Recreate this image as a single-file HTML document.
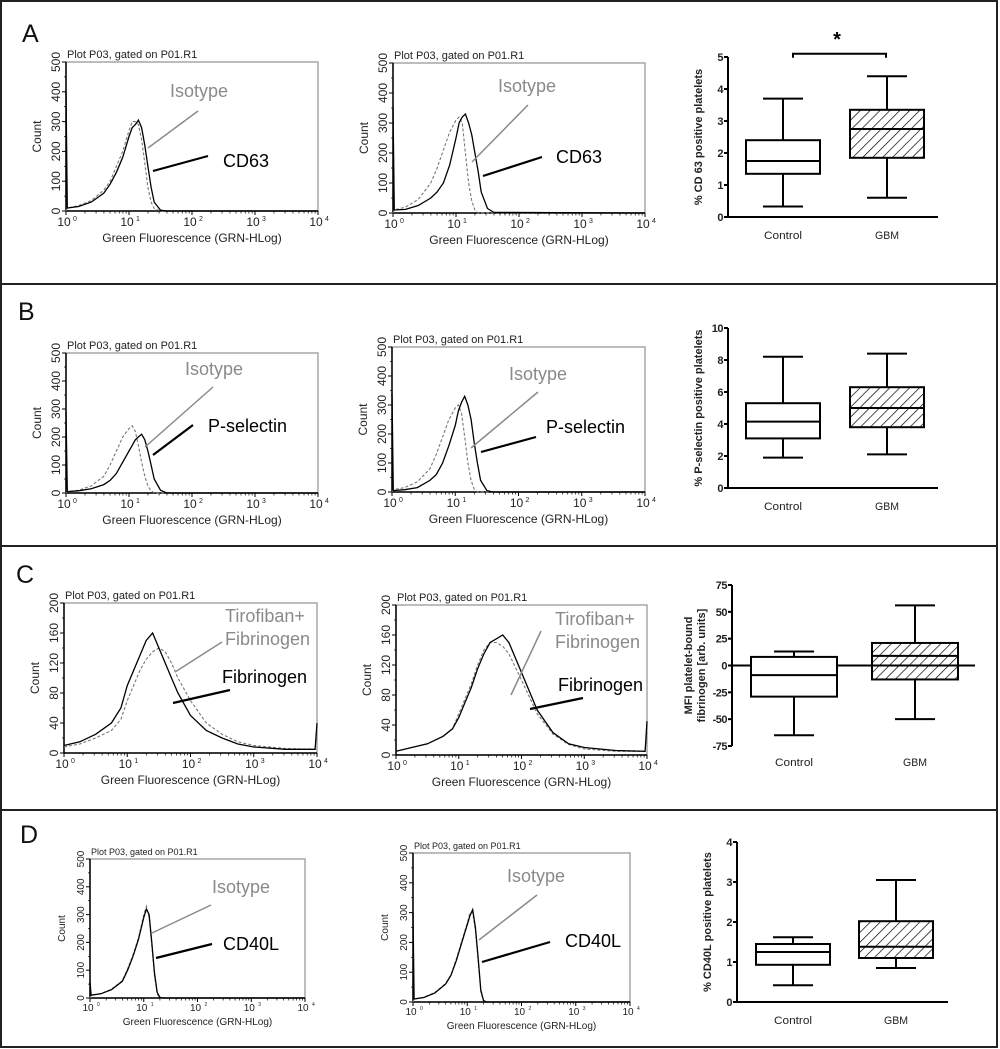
<!DOCTYPE html>
<html><head><meta charset="utf-8"><style>
html,body{margin:0;padding:0;background:#fff;}
svg{display:block;font-family:"Liberation Sans",sans-serif;}
</style></head><body>
<svg id="fig" width="1000" height="1049" viewBox="0 0 1000 1049" xmlns="http://www.w3.org/2000/svg">
<rect x="1" y="1" width="996" height="1046" fill="#fff" stroke="#222" stroke-width="2"/>
<line x1="1" y1="284" x2="997" y2="284" stroke="#222" stroke-width="2"/>
<line x1="1" y1="546" x2="997" y2="546" stroke="#222" stroke-width="2"/>
<line x1="1" y1="810" x2="997" y2="810" stroke="#222" stroke-width="2"/>
<g font-size="25" fill="#111">
<text x="22" y="42">A</text>
<text x="18" y="320">B</text>
<text x="16" y="583">C</text>
<text x="20" y="843">D</text>
</g>
<g id="flows"></g>
<g id="boxes"></g>
<g id="annot" font-size="18"></g>
</svg>
<script>
// ---- flow cytometry histogram data (log10 fluorescence, counts) ----
const logsStd = [0,0.02,0.2,0.4,0.6,0.7,0.8,0.9,1.0,1.05,1.1,1.15,1.2,1.25,1.3,1.35,1.4,1.5,1.6,4];
const logsFib = [0,0.25,0.5,0.75,0.9,1.0,1.1,1.2,1.3,1.4,1.5,1.6,1.7,1.8,2.0,2.25,2.5,2.75,3.0,3.5,3.97,4.0];
const a1Black = [400,10,15,30,60,90,130,180,250,280,290,305,280,220,150,80,30,3,0,0];
const a1Gray  = [0,10,18,35,70,100,150,200,270,300,300,290,240,160,80,30,8,0,0,0];
const a2Black = [350,10,12,25,50,70,100,160,250,300,320,330,300,260,200,140,70,15,2,0];
const a2Gray  = [0,10,20,45,100,150,210,270,310,320,300,200,100,40,10,0,0,0,0,0];
const b1Black = [290,5,8,15,30,45,70,110,150,170,190,200,210,190,150,100,50,10,0,0];
const b1Gray  = [0,5,10,25,60,100,150,200,230,240,220,170,110,60,25,8,0,0,0,0];
const b2Black = [340,5,8,15,40,60,100,160,230,280,310,330,300,250,170,100,40,5,0,0];
const b2Gray  = [0,8,15,35,80,130,190,250,290,300,270,190,100,40,10,0,0,0,0,0];
const c1Black = [10,15,25,40,60,90,110,130,150,160,140,120,100,80,50,30,20,12,8,5,5,40];
const c1Gray  = [8,12,20,30,45,70,90,110,125,135,140,135,120,100,70,40,25,15,10,6,5,30];
const c2Black = [5,10,15,25,35,50,70,90,115,135,150,155,160,150,110,60,30,15,10,6,5,45];
const c2Gray  = [5,10,15,25,35,55,75,95,120,140,150,150,145,135,100,55,28,14,8,5,5,30];
const d1Black = [60,10,15,30,60,100,150,210,290,320,300,200,90,20,2,0,0,0,0,0];
const d1Gray  = [0,10,16,32,62,105,155,215,300,330,290,190,80,15,0,0,0,0,0,0];
const d2Black = [300,10,15,30,60,90,140,200,260,290,310,250,150,40,5,0,0,0,0,0];
const d2Gray  = [0,10,16,32,62,92,145,205,265,300,300,240,140,35,4,0,0,0,0,0];
const yTicks500 = [0,100,200,300,400,500];
const yTicks200 = [0,40,80,120,160,200];
const decades = [0,1,2,3,4];

// ---- box plot stats [min, q1, median, q3, max] ----
const groups = ["Control","GBM"];
const aControl = [0.33,1.35,1.75,2.4,3.7];
const aGbm = [0.6,1.85,2.75,3.35,4.4];
const aTicks = [0,1,2,3,4,5];
const bControl = [1.9,3.1,4.15,5.3,8.2];
const bGbm = [2.1,3.8,5.0,6.3,8.4];
const bTicks = [0,2,4,6,8,10];
const cControl = [-65,-29,-9,8,13];
const cGbm = [-50,-13,9,21,56];
const cTicks = [-75,-50,-25,0,25,50,75];
const dControl = [0.42,0.93,1.25,1.45,1.62];
const dGbm = [0.85,1.1,1.38,2.02,3.05];
const dTicks = [0,1,2,3,4];

const NS = "http://www.w3.org/2000/svg";
function mk(tag, attrs, parent){const e=document.createElementNS(NS,tag);for(const k in attrs)e.setAttribute(k,attrs[k]);parent.appendChild(e);return e;}

const flows = document.getElementById('flows');
function flow(name, cfg, logs, black, gray, ticks){
  const g = mk('g',{},flows);
  
  
  const {x0,x1,y0,y1,ymax,fs} = cfg;
  const sx = v => x0 + v/4*(x1-x0);
  const sy = v => y1 - v/ymax*(y1-y0);
  mk('rect',{x:x0,y:y0,width:x1-x0,height:y1-y0,fill:'none',stroke:'#999','stroke-width':1.3},g);
  mk('line',{x1:x0,y1:y0,x2:x0,y2:y1,stroke:'#000','stroke-width':1.5},g);
  mk('line',{x1:x0,y1:y1,x2:x1,y2:y1,stroke:'#000','stroke-width':1.5},g);
  const t = mk('text',{x:x0+1,y:y0-4,'font-size':fs,fill:'#222'},g);
  t.textContent = 'Plot P03, gated on P01.R1';
  
  
  // x ticks
  decades.forEach(d=>{
    const x=sx(d);
    mk('line',{x1:x,y1:y1,x2:x,y2:y1+4,stroke:'#000'},g);
    if(d<4){for(let k=2;k<10;k++){const xm=sx(d+Math.log10(k));mk('line',{x1:xm,y1:y1,x2:xm,y2:y1+2.5,stroke:'#000','stroke-width':0.7},g);}}
    const lt=mk('text',{x:x-2,y:y1+fs+4,'font-size':fs+1,'text-anchor':'middle',fill:'#222'},g);
    lt.textContent='10';
    
    
    const st=mk('text',{x:x+7,y:y1+fs-1,'font-size':fs-4,fill:'#222'},g);
    st.textContent=String(d);
  });
  const xl = mk('text',{x:(x0+x1)/2,y:y1+2*fs+9,'font-size':fs+1,'text-anchor':'middle',fill:'#222'},g);
  xl.textContent='Green Fluorescence (GRN-HLog)';
  
  
  // y ticks
  const step = ticks[1]-ticks[0];
  ticks.forEach((v,i)=>{
    const y=sy(v);
    mk('line',{x1:x0-4,y1:y,x2:x0,y2:y,stroke:'#000'},g);
    if(i<ticks.length-1){const ym=sy(v+step/2);mk('line',{x1:x0-2,y1:ym,x2:x0,y2:ym,stroke:'#000','stroke-width':0.7},g);}
    const yt=mk('text',{x:x0-6,y:y,'font-size':fs+1,'text-anchor':'middle',fill:'#222',transform:`rotate(-90 ${x0-6} ${y})`},g);
    yt.textContent=String(v);
    
    
  });
  const yl=mk('text',{x:x0-25,y:(y0+y1)/2,'font-size':fs+1,'text-anchor':'middle',fill:'#222',transform:`rotate(-90 ${x0-25} ${(y0+y1)/2})`},g);
  yl.textContent='Count';
  
  
  const pts = arr => logs.map((l,i)=>sx(l).toFixed(1)+','+sy(Math.min(arr[i],ymax)).toFixed(1)).join(' ');
  const pg = mk('polyline',{points:pts(gray),fill:'none',stroke:'#777','stroke-width':1.1,'stroke-dasharray':'3,2'},g);
  
  
  const pb = mk('polyline',{points:pts(black),fill:'none',stroke:'#000','stroke-width':1.3},g);
  
  
}
flow('flow-a1',{x0:66,x1:318,y0:62,y1:211,ymax:500,fs:11},logsStd,a1Black,a1Gray,yTicks500);
flow('flow-a2',{x0:393,x1:645,y0:63,y1:213,ymax:500,fs:11},logsStd,a2Black,a2Gray,yTicks500);
flow('flow-b1',{x0:66,x1:318,y0:353,y1:493,ymax:500,fs:11},logsStd,b1Black,b1Gray,yTicks500);
flow('flow-b2',{x0:392,x1:645,y0:347,y1:492,ymax:500,fs:11},logsStd,b2Black,b2Gray,yTicks500);
flow('flow-c1',{x0:64,x1:317,y0:603,y1:753,ymax:200,fs:11},logsFib,c1Black,c1Gray,yTicks200);
flow('flow-c2',{x0:396,x1:647,y0:605,y1:755,ymax:200,fs:11},logsFib,c2Black,c2Gray,yTicks200);
flow('flow-d1',{x0:90,x1:305,y0:859,y1:998,ymax:500,fs:9},logsStd,d1Black,d1Gray,yTicks500);
flow('flow-d2',{x0:413,x1:630,y0:853,y1:1002,ymax:500,fs:9},logsStd,d2Black,d2Gray,yTicks500);

// ---- box plots ----
const boxes = document.getElementById('boxes');
mk('defs',{},boxes).innerHTML='<pattern id="hatch" width="7" height="7" patternUnits="userSpaceOnUse" patternTransform="rotate(45)"><line x1="0" y1="0" x2="0" y2="7" stroke="#000" stroke-width="1.4"/></pattern>';
function boxplot(name, cfg, ticks, stats, ylabel){
  const g = mk('g',{},boxes);
  
  
  const {ax,axEnd,yTop,yBot,cx,hw,zeroLine} = cfg;
  const vmin=ticks[0], vmax=ticks[ticks.length-1];
  const sy = v => yBot - (v-vmin)/(vmax-vmin)*(yBot-yTop);
  mk('line',{x1:ax,y1:yTop,x2:ax,y2:yBot,stroke:'#000','stroke-width':2},g);
  const baseY = zeroLine ? sy(0) : yBot;
  mk('line',{x1:ax,y1:baseY,x2:axEnd,y2:baseY,stroke:'#000','stroke-width':2},g);
  ticks.forEach(v=>{
    mk('line',{x1:ax-4,y1:sy(v),x2:ax,y2:sy(v),stroke:'#000','stroke-width':2},g);
    const t=mk('text',{x:ax-5,y:sy(v)+4,'font-size':11,'font-weight':'bold','text-anchor':'end',fill:'#222','letter-spacing':'-0.5'},g);
    t.textContent=String(v);
    
    
  });
  stats.forEach((s,i)=>{
    const c=cx[i];
    const w=mk('g',{},g);
    
    
    mk('line',{x1:c,y1:sy(s[0]),x2:c,y2:sy(s[1]),stroke:'#000','stroke-width':2},w);
    mk('line',{x1:c,y1:sy(s[3]),x2:c,y2:sy(s[4]),stroke:'#000','stroke-width':2},w);
    mk('line',{x1:c-20,y1:sy(s[0]),x2:c+20,y2:sy(s[0]),stroke:'#000','stroke-width':2},w);
    mk('line',{x1:c-20,y1:sy(s[4]),x2:c+20,y2:sy(s[4]),stroke:'#000','stroke-width':2},w);
    mk('rect',{x:c-hw,y:sy(s[3]),width:2*hw,height:sy(s[1])-sy(s[3]),fill:i===1?'url(#hatch)':'#fff',stroke:'#000','stroke-width':2},w);
    mk('line',{x1:c-hw,y1:sy(s[2]),x2:c+hw,y2:sy(s[2]),stroke:'#000','stroke-width':2},w);
    const lab=mk('text',{x:c,y:yBot+(zeroLine?20:22),'font-size':11,'text-anchor':'middle',fill:'#222','textLength':i===0?38:24,'lengthAdjust':'spacingAndGlyphs'},g);
    lab.textContent=groups[i];
    
    
  });
  const ly=(yTop+yBot)/2;
  ylabel.forEach((txt,k)=>{
    const lx=ax-(ylabel.length===1?26:40)+k*13;
    const t=mk('text',{x:lx,y:ly,'font-size':11,'font-weight':'bold','text-anchor':'middle',fill:'#222',transform:`rotate(-90 ${lx} ${ly})`},g);
    t.textContent=txt;
    
    
  });
  return sy;
}
const syA = boxplot('boxplot-cd63',{ax:728,axEnd:938,yTop:57,yBot:217,cx:[783,887],hw:37},aTicks,[aControl,aGbm],['% CD 63 positive platelets']);
// significance bracket
(function(){
  const g=mk('g',{},boxes);
  
  
  const y=syA(5.1);
  mk('path',{d:`M793 ${y+4} V${y} H886 V${y+4}`,fill:'none',stroke:'#000','stroke-width':2},g);
  const s=mk('text',{x:837,y:y-8,'font-size':20,'font-weight':'bold','text-anchor':'middle',fill:'#000'},g);
  s.textContent='*';
})();
boxplot('boxplot-pselectin',{ax:728,axEnd:938,yTop:328,yBot:488,cx:[783,887],hw:37},bTicks,[bControl,bGbm],['% P-selectin  positive platelets']);
boxplot('boxplot-fibrinogen',{ax:732,axEnd:975,yTop:585,yBot:746,cx:[794,915],hw:43,zeroLine:true},cTicks,[cControl,cGbm],['MFI platelet-bound','fibrinogen [arb. units]']);
boxplot('boxplot-cd40l',{ax:737,axEnd:948,yTop:842,yBot:1002,cx:[793,896],hw:37},dTicks,[dControl,dGbm],['% CD40L positive platelets']);

// ---- annotations ----
const ann = document.getElementById('annot');
function label(name, x, y, txt, col, size){
  const t=mk('text',{x:x,y:y,fill:col,'font-size':size||18},ann);
  t.textContent=txt;
  
  
}
function pointer(x1,y1,x2,y2,col,w){mk('line',{x1:x1,y1:y1,x2:x2,y2:y2,stroke:col,'stroke-width':w},ann);}
const G='#8a8a8a';
label('isotype-label',170,97,'Isotype',G); label('cd63-label',223,167,'CD63','#000');
pointer(198,111,148,148,G,1.5); pointer(208,156,153,171,'#000',2.2);
label('isotype-label',498,92,'Isotype',G); label('cd63-label',556,163,'CD63','#000');
pointer(528,105,472,162,G,1.5); pointer(542,157,483,176,'#000',2.2);
label('isotype-label',185,375,'Isotype',G); label('p-selectin-label',208,432,'P-selectin','#000');
pointer(213,387,145,447,G,1.5); pointer(193,425,153,455,'#000',2.2);
label('isotype-label',509,380,'Isotype',G); label('p-selectin-label',546,433,'P-selectin','#000');
pointer(538,392,471,448,G,1.5); pointer(536,437,481,452,'#000',2.2);
label('tirofiban-label',225,622,'Tirofiban+',G); label('tirofiban-fibrinogen-label',225,645,'Fibrinogen',G); label('fibrinogen-label',222,683,'Fibrinogen','#000');
pointer(222,642,175,672,G,1.5); pointer(230,690,173,703,'#000',2.2);
label('tirofiban-label',555,625,'Tirofiban+',G); label('tirofiban-fibrinogen-label',555,648,'Fibrinogen',G); label('fibrinogen-label',558,691,'Fibrinogen','#000');
pointer(541,631,511,695,G,1.5); pointer(583,698,530,709,'#000',2.2);
label('isotype-label',212,893,'Isotype',G); label('cd40l-label',223,950,'CD40L','#000');
pointer(211,905,152,933,G,1.5); pointer(212,944,156,958,'#000',2.2);
label('isotype-label',507,882,'Isotype',G); label('cd40l-label',565,947,'CD40L','#000');
pointer(537,895,479,940,G,1.5); pointer(550,942,482,962,'#000',2.2);
</script>
</body></html>
